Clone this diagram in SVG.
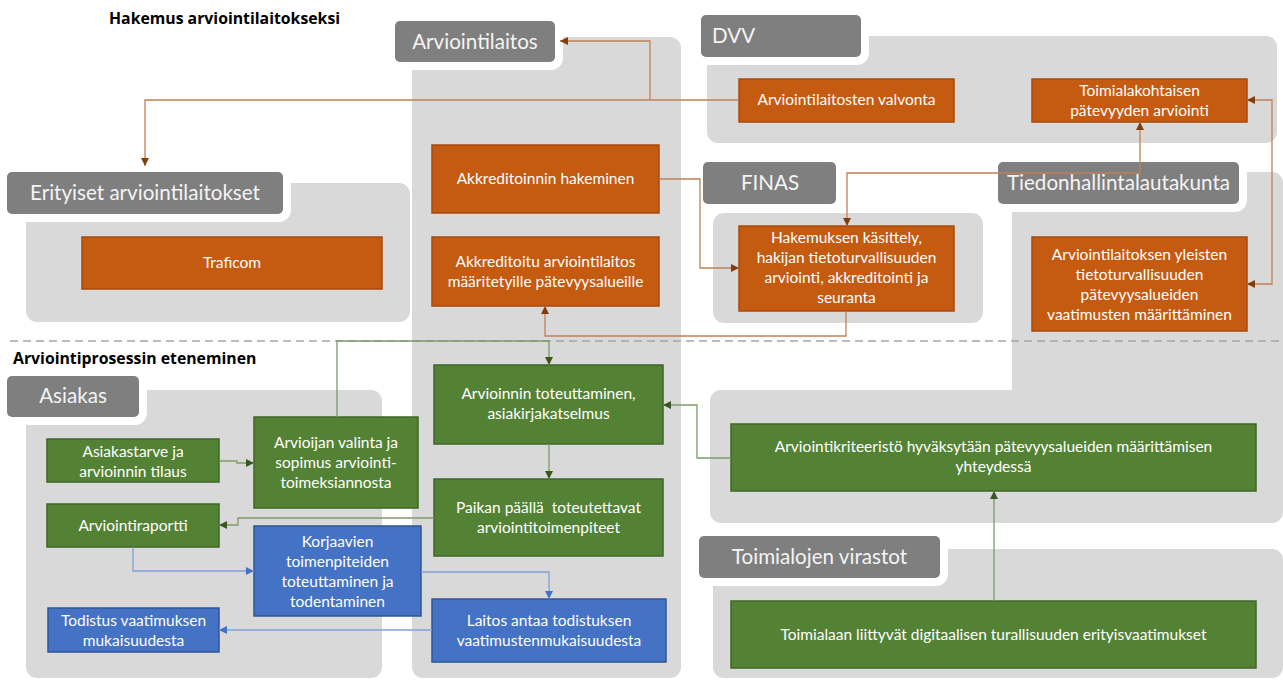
<svg xmlns="http://www.w3.org/2000/svg" width="1283" height="680" viewBox="0 0 1283 680">
<defs>
<style>
.panel{fill:#d9d9d9}
.halo{fill:#ffffff}
.tab{fill:#7f7f7f}
.tabt{font-family:Lato,"Liberation Sans",sans-serif;font-size:20.6px;fill:#f4f4f4}
.title{font-family:"Open Sans","Liberation Sans",sans-serif;font-size:15.8px;font-weight:bold;fill:#000}
.o{fill:#c55a11;stroke:#a9490c;stroke-width:1.5}
.g{fill:#548235;stroke:#3f6627;stroke-width:1.5}
.b{fill:#4472c4;stroke:#2f5597;stroke-width:1.5}
.bt{font-family:Lato,"Liberation Sans",sans-serif;font-size:15.5px;fill:#ffffff;text-anchor:middle}
.co{fill:none;stroke:#c0805a;stroke-width:1.3}
.cg{fill:none;stroke:#7c9a68;stroke-width:1.3}
.cb{fill:none;stroke:#7fa0db;stroke-width:1.3}
</style>
<marker id="ao" markerUnits="userSpaceOnUse" markerWidth="9" markerHeight="8" refX="8" refY="4" orient="auto-start-reverse"><path d="M0,0 L8,4 L0,8 z" fill="#843c0c"/></marker>
<marker id="ag" markerUnits="userSpaceOnUse" markerWidth="9" markerHeight="8" refX="8" refY="4" orient="auto-start-reverse"><path d="M0,0 L8,4 L0,8 z" fill="#385723"/></marker>
<marker id="ab" markerUnits="userSpaceOnUse" markerWidth="9" markerHeight="8" refX="8" refY="4" orient="auto-start-reverse"><path d="M0,0 L8,4 L0,8 z" fill="#4472c4"/></marker>
</defs>
<rect width="1283" height="680" fill="#ffffff"/>

<g id="panels">
<rect class="panel" x="412" y="37" width="269" height="641" rx="11"/>
<rect class="panel" x="707" y="36" width="570" height="107" rx="11"/>
<rect class="panel" x="713" y="213" width="270" height="110" rx="11"/>
<rect class="panel" x="1012" y="172" width="271" height="270" rx="11"/>
<rect class="panel" x="710" y="390" width="573" height="133" rx="11"/>
<rect class="panel" x="26" y="183" width="384" height="139" rx="11"/>
<rect class="panel" x="26" y="390" width="356" height="288" rx="11"/>
<rect class="panel" x="713" y="549" width="570" height="129" rx="11"/>
</g>

<g id="dashed-divider">
<line x1="10" y1="341" x2="1283" y2="341" stroke="#a6a6a6" stroke-width="1.5" stroke-dasharray="8,5"/>
</g>

<g id="titles">
<text class="title" x="109" y="24">Hakemus arviointilaitokseksi</text>
<text class="title" x="13" y="364">Arviointiprosessin eteneminen</text>
</g>

<g id="tab-arviointilaitos">
<rect class="halo" x="387" y="13" width="176" height="57" rx="12"/>
<rect class="tab" x="395" y="21" width="160" height="41" rx="5"/>
<text class="tabt" x="475" y="49" text-anchor="middle">Arviointilaitos</text>
</g>
<g id="tab-dvv">
<rect class="halo" x="693" y="7" width="176" height="58" rx="12"/>
<rect class="tab" x="701" y="15" width="160" height="42" rx="5"/>
<text class="tabt" x="712" y="43">DVV</text>
</g>
<g id="tab-finas">
<rect class="halo" x="695" y="154" width="149" height="58" rx="12"/>
<rect class="tab" x="703" y="162" width="133" height="42" rx="5"/>
<text class="tabt" x="770" y="190" text-anchor="middle">FINAS</text>
</g>
<g id="tab-tiedonhallintalautakunta">
<rect class="halo" x="990" y="154" width="257" height="58" rx="12"/>
<rect class="tab" x="998" y="162" width="241" height="42" rx="5"/>
<text class="tabt" x="1118.5" y="190" text-anchor="middle">Tiedonhallintalautakunta</text>
</g>
<g id="tab-erityiset">
<rect class="halo" x="0" y="164" width="291" height="58" rx="12"/>
<rect class="tab" x="7" y="172" width="276" height="42" rx="5"/>
<text class="tabt" x="145" y="200" text-anchor="middle">Erityiset arviointilaitokset</text>
</g>
<g id="tab-asiakas">
<rect class="halo" x="0" y="368" width="147" height="57" rx="12"/>
<rect class="tab" x="7" y="376" width="132" height="41" rx="5"/>
<text class="tabt" x="73" y="403" text-anchor="middle">Asiakas</text>
</g>
<g id="tab-toimialojen-virastot">
<rect class="halo" x="691" y="528" width="257" height="58" rx="12"/>
<rect class="tab" x="699" y="536" width="241" height="42" rx="5"/>
<text class="tabt" x="819.5" y="564" text-anchor="middle">Toimialojen virastot</text>
</g>

<g id="n-valvonta">
<rect class="o" x="739" y="79" width="215" height="43"/>
<text class="bt" x="846.5" y="105">Arviointilaitosten valvonta</text>
</g>
<g id="n-toimialakohtaisen">
<rect class="o" x="1032" y="79" width="215" height="43"/>
<text class="bt" x="1139.5" y="96">Toimialakohtaisen</text>
<text class="bt" x="1139.5" y="116">pätevyyden arviointi</text>
</g>
<g id="n-akkreditoinnin-hakeminen">
<rect class="o" x="432" y="145" width="227" height="68"/>
<text class="bt" x="545.5" y="184">Akkreditoinnin hakeminen</text>
</g>
<g id="n-akkreditoitu">
<rect class="o" x="432" y="237" width="227" height="69"/>
<text class="bt" x="545.5" y="267">Akkreditoitu arviointilaitos</text>
<text class="bt" x="545.5" y="287">määritetyille pätevyysalueille</text>
</g>
<g id="n-hakemuksen-kasittely">
<rect class="o" x="739" y="226" width="215" height="85"/>
<text class="bt" x="846.5" y="243">Hakemuksen käsittely,</text>
<text class="bt" x="846.5" y="263">hakijan tietoturvallisuuden</text>
<text class="bt" x="846.5" y="283">arviointi, akkreditointi ja</text>
<text class="bt" x="846.5" y="303">seuranta</text>
</g>
<g id="n-yleisten-vaatimukset">
<rect class="o" x="1032" y="237" width="215" height="94"/>
<text class="bt" x="1139.5" y="260">Arviointilaitoksen yleisten</text>
<text class="bt" x="1139.5" y="280">tietoturvallisuuden</text>
<text class="bt" x="1139.5" y="300">pätevyysalueiden</text>
<text class="bt" x="1139.5" y="320">vaatimusten määrittäminen</text>
</g>
<g id="n-traficom">
<rect class="o" x="82" y="237" width="300" height="52"/>
<text class="bt" x="232" y="268">Traficom</text>
</g>

<g id="n-asiakastarve">
<rect class="g" x="47" y="439" width="172" height="43"/>
<text class="bt" x="133" y="457">Asiakastarve ja</text>
<text class="bt" x="133" y="477">arvioinnin tilaus</text>
</g>
<g id="n-arvioijan-valinta">
<rect class="g" x="254" y="417" width="164" height="91"/>
<text class="bt" x="336" y="448">Arvioijan valinta ja</text>
<text class="bt" x="336" y="468">sopimus arviointi-</text>
<text class="bt" x="336" y="488">toimeksiannosta</text>
</g>
<g id="n-arviointiraportti">
<rect class="g" x="47" y="504" width="172" height="43"/>
<text class="bt" x="133" y="531">Arviointiraportti</text>
</g>
<g id="n-arvioinnin-toteuttaminen">
<rect class="g" x="434" y="365" width="229" height="79"/>
<text class="bt" x="548.5" y="399">Arvioinnin toteuttaminen,</text>
<text class="bt" x="548.5" y="419">asiakirjakatselmus</text>
</g>
<g id="n-paikan-paalla">
<rect class="g" x="434" y="479" width="229" height="77"/>
<text class="bt" x="548.5" y="513" xml:space="preserve">Paikan päällä  toteutettavat</text>
<text class="bt" x="548.5" y="533">arviointitoimenpiteet</text>
</g>
<g id="n-arviointikriteeristo">
<rect class="g" x="731" y="424" width="525" height="67"/>
<text class="bt" x="993.5" y="452">Arviointikriteeristö hyväksytään pätevyysalueiden määrittämisen</text>
<text class="bt" x="993.5" y="472">yhteydessä</text>
</g>
<g id="n-toimialaan-erityisvaatimukset">
<rect class="g" x="731" y="601" width="525" height="67"/>
<text class="bt" x="993.5" y="640">Toimialaan liittyvät digitaalisen turallisuuden erityisvaatimukset</text>
</g>

<g id="n-korjaavien">
<rect class="b" x="254" y="526" width="167" height="90"/>
<text class="bt" x="337.5" y="547">Korjaavien</text>
<text class="bt" x="337.5" y="567">toimenpiteiden</text>
<text class="bt" x="337.5" y="587">toteuttaminen ja</text>
<text class="bt" x="337.5" y="607">todentaminen</text>
</g>
<g id="n-todistus">
<rect class="b" x="48" y="608" width="171" height="44"/>
<text class="bt" x="133.5" y="626">Todistus vaatimuksen</text>
<text class="bt" x="133.5" y="646">mukaisuudesta</text>
</g>
<g id="n-laitos-antaa">
<rect class="b" x="432" y="599" width="234" height="63"/>
<text class="bt" x="549" y="626">Laitos antaa todistuksen</text>
<text class="bt" x="549" y="646">vaatimustenmukaisuudesta</text>
</g>

<g id="connectors">
<path class="co" d="M739,100 H145 V166" marker-end="url(#ao)"/>
<path class="co" d="M650,100 V41 H560" marker-end="url(#ao)"/>
<path class="co" d="M659,179 H700 V268 H739" marker-end="url(#ao)"/>
<path class="co" d="M846,311 V336 H545 V306" marker-end="url(#ao)"/>
<path class="co" d="M847,226 V173 H1140 V122" marker-start="url(#ao)" marker-end="url(#ao)"/>
<path class="co" d="M1247,100 H1272 V284 H1247" marker-start="url(#ao)" marker-end="url(#ao)"/>
<path class="cg" d="M219,461 H237 V463 H254" marker-end="url(#ag)"/>
<path class="cg" d="M337,417 V341 H549 V365" marker-end="url(#ag)"/>
<path class="cg" d="M549,444 V479" marker-end="url(#ag)"/>
<path class="cg" d="M731,458 H697 V405 H663" marker-end="url(#ag)"/>
<path class="cg" d="M994,601 V491" marker-end="url(#ag)"/>
<path class="cg" d="M434,518 H238 V525 H219" marker-end="url(#ag)"/>
<path class="cb" d="M133,547 V571 H254" marker-end="url(#ab)"/>
<path class="cb" d="M421,572 H549 V599" marker-end="url(#ab)"/>
<path class="cb" d="M432,630 H219" marker-end="url(#ab)"/>
</g>
</svg>
